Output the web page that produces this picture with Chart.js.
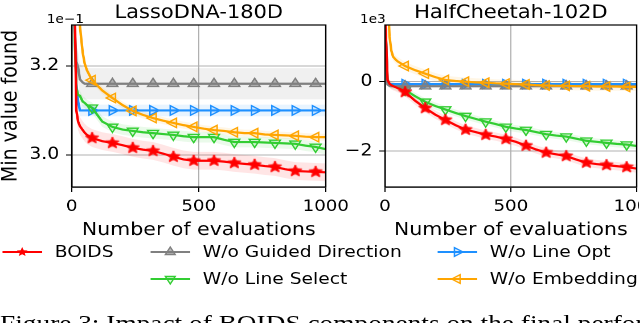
<!DOCTYPE html>
<html>
<head>
<meta charset="utf-8">
<script src="https://cdn.jsdelivr.net/npm/chart.js@4.4.1/dist/chart.umd.min.js"></script>
<style>
  html, body { margin: 0; padding: 0; background: #fff; overflow: hidden; }
  /* the reference figure is a bit wider than tall, so everything is laid out at 562px and stretched */
  #fig { position: relative; width: 562px; height: 323px; transform: scaleX(1.139); transform-origin: 0 0; overflow: hidden; font-family: "DejaVu Sans", sans-serif; }
  #cL { position: absolute; left: 0; top: 0; }
  #cR { position: absolute; left: 289px; top: 0; }
  .item { position: absolute; height: 20px; line-height: 20px; font-size: 16.4px; color: #000; white-space: nowrap; }
  .item svg { position: absolute; left: 0; top: 3px; }
  .item span { position: absolute; top: 0; }
  #caption { position: absolute; left: 0; top: 311px; font-family: "Liberation Serif", serif; font-size: 24px; line-height: 1; white-space: nowrap; color: #000; }
</style>
</head>
<body>
<div id="fig">
  <canvas id="cL" width="320" height="245"></canvas>
  <canvas id="cR" width="272" height="245"></canvas>
  <div id="legend"></div>
  <div id="caption">Figure 3: Impact of BOIDS components on the final performance.</div>
</div>
<script>
// evaluation counts (x) shared by every curve
var evals = [0, 10, 18, 25, 32, 43, 51, 60, 80, 120, 160, 200, 240, 280, 320, 360, 400, 440, 480, 520, 560, 600, 640, 680, 720, 760, 800, 840, 880, 920, 960, 1000]
var markEvals = [80, 160, 240, 320, 400, 480, 560, 640, 720, 800, 880, 960]

// LassoDNA-180D  (x 1e-1)
var boidsL   = [3.60, 3.40, 3.10, 3.075, 3.065, 3.056, 3.05, 3.045, 3.038, 3.031, 3.027, 3.022, 3.016, 3.012, 3.009, 3.003, 2.996, 2.990, 2.987, 2.987, 2.987, 2.985, 2.982, 2.980, 2.978, 2.975, 2.973, 2.968, 2.964, 2.963, 2.962, 2.961]
var guidedL  = [3.60, 3.30, 3.21, 3.197, 3.17, 3.163, 3.16, 3.16, 3.16, 3.16, 3.16, 3.16, 3.16, 3.16, 3.16, 3.16, 3.16, 3.16, 3.16, 3.16, 3.16, 3.16, 3.16, 3.16, 3.16, 3.16, 3.16, 3.16, 3.16, 3.16, 3.16, 3.16]
var lineOptL = [3.60, 3.30, 3.16, 3.12, 3.10, 3.10, 3.10, 3.10, 3.10, 3.10, 3.10, 3.10, 3.10, 3.10, 3.10, 3.10, 3.10, 3.10, 3.10, 3.10, 3.10, 3.10, 3.10, 3.10, 3.10, 3.10, 3.10, 3.10, 3.10, 3.10, 3.10, 3.10]
var lineSelL = [3.60, 3.30, 3.15, 3.135, 3.133, 3.12, 3.117, 3.112, 3.106, 3.075, 3.063, 3.057, 3.054, 3.051, 3.049, 3.047, 3.045, 3.042, 3.040, 3.040, 3.040, 3.034, 3.029, 3.029, 3.029, 3.028, 3.027, 3.026, 3.025, 3.021, 3.018, 3.013]
var embedL   = [3.90, 3.70, 3.45, 3.36, 3.29, 3.23, 3.205, 3.19, 3.168, 3.145, 3.128, 3.112, 3.099, 3.09, 3.083, 3.077, 3.072, 3.067, 3.063, 3.059, 3.056, 3.054, 3.051, 3.049, 3.049, 3.046, 3.045, 3.044, 3.043, 3.041, 3.040, 3.040]

// HalfCheetah-102D  (x 1e3)
var boidsR   = [2.0, 0.05, -0.06, -0.10, -0.13, -0.16, -0.19, -0.21, -0.30, -0.55, -0.76, -0.95, -1.10, -1.25, -1.38, -1.45, -1.53, -1.58, -1.65, -1.73, -1.84, -1.95, -2.04, -2.09, -2.14, -2.24, -2.33, -2.37, -2.40, -2.43, -2.46, -2.50]
var guidedR  = [2.0, -0.08, -0.12, -0.13, -0.13, -0.13, -0.13, -0.13, -0.13, -0.13, -0.13, -0.13, -0.13, -0.13, -0.13, -0.13, -0.13, -0.13, -0.13, -0.13, -0.13, -0.13, -0.13, -0.13, -0.13, -0.13, -0.13, -0.13, -0.13, -0.13, -0.13, -0.13]
var lineOptR = [2.0, -0.03, -0.06, -0.07, -0.07, -0.07, -0.07, -0.07, -0.07, -0.07, -0.07, -0.07, -0.07, -0.07, -0.07, -0.07, -0.07, -0.07, -0.07, -0.07, -0.07, -0.07, -0.07, -0.07, -0.07, -0.07, -0.07, -0.07, -0.07, -0.07, -0.07, -0.07]
var lineSelR = [2.0, 0.03, -0.07, -0.10, -0.12, -0.15, -0.17, -0.19, -0.24, -0.42, -0.58, -0.70, -0.80, -0.90, -0.99, -1.07, -1.15, -1.22, -1.30, -1.35, -1.39, -1.45, -1.51, -1.55, -1.58, -1.64, -1.70, -1.73, -1.76, -1.79, -1.81, -1.85]
var embedR   = [4.0, 2.6, 1.3, 0.9, 0.72, 0.63, 0.58, 0.54, 0.45, 0.33, 0.23, 0.13, 0.05, 0.02, 0.0, -0.02, -0.03, -0.05, -0.06, -0.07, -0.08, -0.10, -0.11, -0.12, -0.12, -0.13, -0.13, -0.14, -0.14, -0.14, -0.15, -0.15]

// half width of the shaded band, order: BOIDS, guided, line opt, line select, embedding
var spreadL = [0.02, 0.035, 0.013, 0.012, 0.008]
var spreadR = [0.12, 0.06, 0.04, 0.10, 0.12]

var seriesNames = ['BOIDS', 'W/o Guided Direction', 'W/o Line Opt', 'W/o Line Select', 'W/o Embedding']
var colors = ['#ff0000', '#808080', '#1e90ff', '#32cd32', '#ffa500']
var faces = ['#ff0000', 'rgba(128,128,128,0.55)', 'rgba(30,144,255,0.15)', 'rgba(50,205,50,0.15)', 'rgba(255,165,0,0.15)']
var bands = ['rgba(255,0,0,0.1)', 'rgba(128,128,128,0.12)', 'rgba(30,144,255,0.1)', 'rgba(50,205,50,0.1)', 'rgba(255,165,0,0.1)']
var rotations = [0, 0, 90, 180, -90]
var drawOrder = [0, 2, 4, 3, 1]  // smaller is drawn on top

var xTicks = [0, 500, 1000]
var yTicksL = [3.0, 3.2]
var yTicksR = [-2, 0]

Chart.defaults.font.family = '"DejaVu Sans", sans-serif'
Chart.defaults.color = '#000'

function starImage(color, r) {
  var c = document.createElement('canvas')
  c.width = c.height = 2 * r + 2
  var g = c.getContext('2d')
  g.beginPath()
  for (var k = 0; k < 10; k++) {
    var rad = k % 2 ? r * 0.45 : r
    var a = -Math.PI / 2 + k * Math.PI / 5
    g.lineTo(r + 1 + rad * Math.cos(a), r + 1 + rad * Math.sin(a))
  }
  g.closePath()
  g.fillStyle = color
  g.fill()
  g.strokeStyle = color
  g.lineWidth = 1
  g.stroke()
  return c
}
var star = starImage('#ff0000', 6)

// box around the plot + panel title + the 1e-1 / 1e3 offset text
var panelText = {
  id: 'panelText',
  afterDraw: function (chart, args, opts) {
    var ctx = chart.ctx
    var a = chart.chartArea
    ctx.save()
    ctx.strokeStyle = '#000'
    ctx.lineWidth = 1.2
    ctx.strokeRect(a.left, a.top, a.right - a.left, a.bottom - a.top)
    ctx.fillStyle = '#000'
    ctx.textBaseline = 'alphabetic'
    ctx.textAlign = 'center'
    ctx.font = '18.4px "DejaVu Sans"'
    ctx.fillText(opts.title, (a.left + a.right) / 2, 18)
    ctx.textAlign = 'left'
    ctx.font = '12px "DejaVu Sans"'
    ctx.fillText(opts.offset, a.left - 22, 23)
    ctx.restore()
  }
}

function pts(arr) {
  return evals.map(function (x, i) { return { x: x, y: arr[i] } })
}

function makeChart(id, series, spread, yMin, yMax, yTicks, yFmt, yWidth, yTitle, title, offset, padRight) {
  var datasets = []
  series.forEach(function (s, i) {
    datasets.push({
      data: pts(s),
      borderColor: colors[i],
      borderWidth: 2.2,
      backgroundColor: faces[i],
      pointStyle: i === 0 ? star : 'triangle',
      pointRotation: rotations[i],
      pointBorderWidth: 1.3,
      pointRadius: function (c) { return markEvals.indexOf(c.raw.x) >= 0 ? 5.5 : 0 },
      fill: false,
      order: drawOrder[i]
    })
  })
  series.forEach(function (s, i) {
    datasets.push({
      data: pts(s.map(function (v) { return v + spread[i] })),
      borderWidth: 0, pointRadius: 0, fill: false, order: 10
    })
    datasets.push({
      data: pts(s.map(function (v) { return v - spread[i] })),
      borderWidth: 0, pointRadius: 0, fill: '-1', backgroundColor: bands[i], order: 10
    })
  })

  return new Chart(document.getElementById(id), {
    type: 'line',
    data: { datasets: datasets },
    plugins: [panelText],
    options: {
      responsive: false,
      devicePixelRatio: 2,
      animation: false,
      events: [],
      layout: { padding: { left: 0, right: padRight, top: 25, bottom: 4 } },
      plugins: {
        legend: { display: false },
        tooltip: { enabled: false },
        panelText: { title: title, offset: offset }
      },
      scales: {
        x: {
          type: 'linear', min: 0, max: 1000,
          afterBuildTicks: function (s) { s.ticks = xTicks.map(function (v) { return { value: v } }) },
          afterFit: function (s) { s.height = 54; s.paddingLeft = 0; s.paddingRight = 0 },
          ticks: { font: { size: 16 }, padding: 5, maxRotation: 0, autoSkip: false, callback: function (v) { return String(v) } },
          grid: { color: '#b0b0b0', tickColor: '#000', tickLength: 5, lineWidth: 1 },
          border: { color: '#000', width: 1.2 },
          title: { display: true, text: 'Number of evaluations', font: { size: 18, lineHeight: 1.2 }, padding: { top: 0, bottom: 0 } }
        },
        y: {
          type: 'linear', min: yMin, max: yMax,
          afterBuildTicks: function (s) { s.ticks = yTicks.map(function (v) { return { value: v } }) },
          afterFit: function (s) { s.width = yWidth; s.paddingTop = 0; s.paddingBottom = 0 },
          ticks: { font: { size: 16.5 }, padding: 6, autoSkip: false, callback: yFmt },
          grid: { color: '#b0b0b0', tickColor: '#000', tickLength: 5, lineWidth: 1 },
          border: { color: '#000', width: 1.2 },
          title: { display: yTitle !== '', text: yTitle, font: { size: 19, lineHeight: 1 }, padding: { top: 0, bottom: 0 } }
        }
      }
    }
  })
}

makeChart('cL', [boidsL, guidedL, lineOptL, lineSelL, embedL], spreadL, 2.928, 3.292, yTicksL,
  function (v) { return v.toFixed(1) }, 63, 'Min value found', 'LassoDNA-180D', '1e\u22121', 34)
makeChart('cR', [boidsR, guidedR, lineOptR, lineSelR, embedR], spreadR, -3.03, 1.63, yTicksR,
  function (v) { return v < 0 ? '\u2212' + Math.abs(v) : String(v) }, 49, '', 'HalfCheetah-102D', '1e3', 2)

// legend under both panels
var legendPos = [[2, 242], [132, 242], [384, 242], [132, 269], [384, 269]]
var legend = document.getElementById('legend')
seriesNames.forEach(function (name, i) {
  var c = colors[i]
  var mark
  if (i === 0) {
    var p = []
    for (var k = 0; k < 10; k++) {
      var rad = k % 2 ? 2.3 : 5
      var a = -Math.PI / 2 + k * Math.PI / 5
      p.push((17.5 + rad * Math.cos(a)).toFixed(2) + ',' + (7 + rad * Math.sin(a)).toFixed(2))
    }
    mark = '<polygon points="' + p.join(' ') + '" fill="' + c + '"/>'
  } else {
    mark = '<polygon points="17.5,2 21.8,9.5 13.2,9.5" transform="rotate(' + rotations[i] + ' 17.5 7)" fill="' + faces[i] + '" stroke="' + c + '" stroke-width="1.3"/>'
  }
  var div = document.createElement('div')
  div.className = 'item'
  div.style.left = legendPos[i][0] + 'px'
  div.style.top = legendPos[i][1] + 'px'
  div.innerHTML = '<svg width="35" height="14"><line x1="0" y1="7" x2="35" y2="7" stroke="' + c + '" stroke-width="2"/>' + mark + '</svg><span style="left:46px">' + name + '</span>'
  legend.appendChild(div)
})
</script>
</body>
</html>
